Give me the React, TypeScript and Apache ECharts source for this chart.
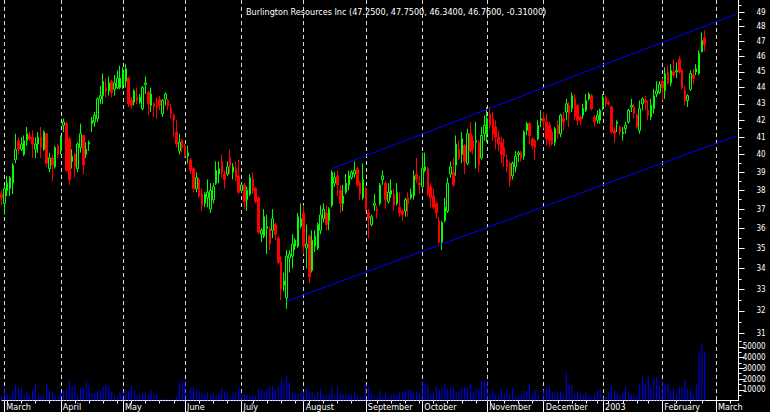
import React, { useEffect, useRef } from 'react';
import * as echarts from 'echarts';

const TITLE = 'Burlington Resources Inc (47.2500, 47.7500, 46.3400, 46.7600, -0.31000)';
const FIRST_DAY = '2002-02-28';
const LAST_DAY = '2003-03-13';
const HOLIDAYS = ['2002-03-29', '2002-05-27', '2002-07-04', '2002-09-02', '2002-11-28', '2002-12-25', '2003-01-01', '2003-01-20', '2003-02-17'];
const MONTH_LABELS: Record<string, string> = {
  '2002-03': 'March', '2002-04': 'April', '2002-05': 'May', '2002-06': 'June', '2002-07': 'July',
  '2002-08': 'August', '2002-09': 'September', '2002-10': 'October', '2002-11': 'November',
  '2002-12': 'December', '2003-01': '2003', '2003-02': 'February', '2003-03': 'March',
};

// [open, high, low, close]
const mar02 = [
  [37.8, 38.0, 37.2, 37.6], [37.3, 38.3, 36.7, 38.1], [38.0, 38.8, 37.7, 38.4], [38.1, 38.8, 37.7, 38.7],
  [38.4, 39.5, 37.8, 39.4], [39.7, 41.2, 39.5, 40.3], [40.8, 41.0, 40.0, 40.3], [40.3, 41.0, 40.2, 40.6],
  [40.0, 41.1, 39.9, 40.8], [40.8, 41.6, 40.5, 41.2], [41.1, 41.3, 40.8, 40.9], [41.0, 41.4, 39.8, 40.6],
  [40.3, 41.0, 39.8, 40.6], [40.6, 41.3, 40.1, 41.0], [41.0, 41.6, 39.8, 40.4], [40.3, 41.4, 40.2, 41.3],
  [41.2, 41.2, 39.3, 39.5], [39.2, 40.1, 39.0, 39.8], [39.8, 40.0, 38.5, 39.4], [39.3, 40.5, 39.2, 40.4],
  [40.5, 40.6, 39.8, 40.0],
];
const apr02 = [
  [40.2, 41.1, 40.0, 41.0], [41.7, 42.1, 41.3, 41.9], [41.8, 41.9, 39.0, 39.1], [40.9, 41.0, 38.3, 38.6],
  [39.6, 40.3, 39.2, 39.9], [40.0, 40.1, 38.7, 39.3], [39.2, 40.7, 39.0, 40.6], [40.4, 41.8, 40.1, 41.2],
  [41.1, 41.1, 38.9, 39.4], [40.0, 40.7, 39.8, 40.3], [40.6, 40.8, 40.2, 40.7], [41.8, 42.2, 41.3, 42.0],
  [41.9, 42.5, 41.6, 42.3], [42.1, 43.4, 41.9, 43.3], [43.3, 44.1, 43.0, 43.5], [43.5, 44.9, 43.0, 44.4],
  [44.0, 44.6, 43.4, 43.8], [43.8, 44.7, 43.5, 44.3], [44.4, 44.5, 43.4, 43.7], [43.9, 44.8, 43.5, 44.3],
  [44.0, 45.1, 43.9, 44.6], [44.0, 45.4, 43.9, 44.6],
];
const may02 = [
  [44.2, 45.3, 43.9, 45.0], [44.4, 45.5, 44.0, 45.2], [44.6, 44.7, 42.8, 43.0], [43.2, 43.4, 42.7, 42.9],
  [43.1, 43.9, 42.9, 43.8], [43.4, 44.0, 43.0, 43.2], [43.1, 43.6, 43.0, 43.4], [42.7, 44.1, 42.6, 44.0],
  [44.2, 44.7, 43.6, 44.3], [43.7, 43.8, 42.3, 43.0], [42.9, 44.0, 42.5, 43.6], [43.0, 43.1, 42.2, 42.8],
  [42.9, 43.4, 42.1, 42.8], [43.3, 43.5, 42.6, 42.9], [42.4, 43.3, 42.2, 43.2], [43.3, 43.7, 42.9, 43.6],
  [43.2, 43.3, 42.6, 42.9], [42.7, 43.0, 42.1, 42.4], [42.3, 42.4, 41.0, 42.0], [41.3, 42.0, 40.4, 40.6],
  [40.2, 41.2, 40.0, 40.7], [40.8, 40.9, 40.1, 40.4],
];
const jun02 = [
  [40.5, 40.6, 39.8, 39.9], [39.9, 40.5, 39.5, 40.1], [39.7, 39.8, 38.9, 39.1], [39.2, 39.3, 37.9, 38.1],
  [38.1, 39.0, 37.9, 38.7], [38.6, 38.7, 37.6, 37.7], [37.8, 38.1, 36.9, 37.2], [37.3, 37.9, 37.1, 37.8],
  [37.6, 38.6, 37.1, 37.9], [37.0, 38.4, 36.8, 38.0], [37.5, 38.4, 37.3, 38.2], [38.4, 39.6, 38.3, 39.1],
  [38.9, 39.6, 38.4, 39.2], [39.6, 40.0, 38.7, 39.0], [38.9, 39.1, 38.1, 38.6], [38.9, 39.6, 38.8, 39.3],
  [39.8, 40.3, 38.9, 39.3], [39.0, 39.5, 38.6, 39.3], [39.2, 39.6, 38.5, 38.7], [38.8, 39.7, 37.8, 37.9],
];
const jul02 = [
  [38.0, 38.4, 37.9, 38.3], [38.3, 38.4, 37.0, 37.4], [37.5, 38.2, 36.9, 38.0], [37.8, 38.9, 37.7, 38.7],
  [38.6, 39.0, 37.8, 38.0], [38.1, 38.2, 37.3, 37.4], [37.6, 37.7, 35.7, 35.8], [35.7, 36.0, 35.3, 35.9],
  [35.6, 37.0, 35.5, 36.6], [36.0, 36.7, 34.7, 36.1], [36.0, 36.1, 34.9, 35.2], [35.9, 37.0, 35.5, 36.5],
  [36.2, 36.3, 35.4, 35.7], [35.5, 35.6, 34.2, 34.3], [34.3, 34.6, 32.5, 33.0], [33.2, 33.8, 32.9, 33.4],
  [32.6, 34.9, 32.1, 34.6], [34.5, 34.9, 33.8, 34.7], [34.6, 35.7, 34.0, 35.2], [35.1, 35.5, 34.9, 35.4],
  [35.1, 36.8, 35.0, 36.6], [36.1, 37.3, 36.0, 36.5],
];
const aug02 = [
  [36.8, 37.2, 34.7, 35.1], [35.0, 36.2, 34.0, 35.2], [35.6, 35.7, 33.3, 33.6], [33.9, 35.9, 33.8, 35.4],
  [35.1, 35.9, 34.8, 35.6], [35.0, 36.3, 34.9, 36.2], [35.9, 37.2, 35.7, 36.7], [36.5, 37.3, 36.3, 37.0],
  [36.8, 37.2, 35.9, 36.2], [36.4, 37.1, 35.9, 37.0], [37.2, 39.1, 37.1, 39.0], [38.4, 39.0, 38.2, 38.7],
  [38.8, 39.1, 37.7, 38.3], [38.0, 38.3, 36.8, 37.3], [37.3, 38.3, 36.9, 37.7], [37.9, 38.9, 37.8, 38.4],
  [38.3, 39.1, 38.0, 38.8], [38.7, 39.1, 38.6, 39.0], [38.9, 39.6, 38.7, 39.1], [39.2, 39.3, 38.2, 38.3],
  [38.4, 38.5, 37.5, 37.8], [37.6, 39.5, 37.5, 38.6],
];
const sep02 = [
  [38.1, 38.2, 36.9, 37.0], [36.8, 37.0, 35.5, 36.5], [36.2, 36.7, 36.1, 36.6], [37.2, 37.8, 36.9, 37.3],
  [37.0, 37.2, 36.5, 36.9], [37.3, 38.4, 37.2, 38.3], [38.6, 39.1, 38.3, 38.8], [38.4, 38.5, 37.0, 37.5],
  [37.4, 38.4, 37.3, 37.9], [37.8, 38.6, 37.6, 38.0], [37.8, 38.1, 36.9, 37.2], [37.3, 38.4, 37.2, 37.9],
  [37.1, 37.9, 36.6, 36.8], [36.9, 37.0, 36.4, 36.7], [36.9, 37.6, 36.6, 37.5], [37.6, 37.9, 36.6, 37.3],
  [37.6, 38.1, 37.5, 37.8], [37.7, 39.1, 37.5, 38.8], [38.9, 39.8, 38.4, 38.6], [38.4, 38.8, 37.8, 38.3],
];
const oct02 = [
  [38.2, 40.1, 38.1, 39.2], [39.1, 40.1, 39.0, 39.3], [39.2, 39.3, 37.7, 37.8], [38.2, 38.4, 37.1, 37.6],
  [37.7, 38.1, 37.0, 37.1], [37.3, 37.4, 36.5, 36.8], [36.4, 36.6, 35.2, 35.3], [35.3, 36.4, 34.9, 36.3],
  [36.4, 37.6, 36.3, 37.1], [36.9, 38.7, 36.8, 38.4], [38.9, 39.6, 38.7, 39.3], [39.0, 39.8, 38.2, 38.3],
  [39.4, 41.1, 38.8, 40.6], [40.3, 40.8, 39.7, 39.8], [40.0, 41.3, 39.5, 40.9], [40.5, 40.6, 38.9, 39.6],
  [39.5, 41.5, 39.4, 41.2], [41.2, 41.9, 40.1, 40.2], [40.8, 41.1, 40.0, 40.3], [40.7, 41.9, 39.2, 40.8],
  [40.7, 40.8, 39.0, 39.4], [39.8, 41.6, 39.7, 41.1], [41.2, 42.3, 40.8, 41.7],
];
const nov02 = [
  [41.2, 42.8, 40.7, 42.1], [42.4, 42.8, 41.5, 41.7], [42.1, 42.5, 40.8, 41.2], [41.6, 42.0, 40.3, 41.0],
  [41.0, 41.4, 40.2, 40.6], [40.7, 41.0, 39.5, 40.0], [40.4, 40.9, 39.3, 39.9], [39.7, 40.0, 39.0, 39.3],
  [39.5, 39.6, 38.2, 38.5], [38.8, 39.6, 38.6, 39.5], [39.3, 40.2, 39.0, 39.9], [40.0, 40.2, 39.6, 40.1],
  [40.1, 40.2, 39.6, 39.8], [39.9, 41.4, 39.7, 41.3], [41.4, 41.9, 41.1, 41.8], [41.8, 41.9, 40.6, 41.1],
  [40.9, 41.0, 40.3, 40.5], [40.8, 40.9, 39.7, 40.4], [40.9, 42.0, 40.8, 41.7], [42.0, 42.6, 41.6, 42.1],
];
const dec02 = [
  [42.1, 42.5, 41.5, 41.9], [41.9, 42.4, 40.5, 40.9], [41.7, 41.9, 40.4, 40.8], [41.3, 41.5, 40.5, 40.6],
  [40.7, 41.6, 40.5, 41.5], [41.7, 42.0, 40.9, 41.2], [41.2, 42.4, 41.0, 42.3], [42.1, 42.5, 41.4, 41.9],
  [42.5, 43.3, 42.0, 43.0], [42.9, 43.1, 41.6, 42.4], [42.7, 43.7, 42.5, 43.5], [43.3, 43.6, 42.0, 42.2],
  [42.9, 43.0, 41.7, 42.0], [42.2, 42.3, 41.7, 42.0], [42.3, 43.0, 42.1, 42.7], [42.6, 43.6, 42.5, 43.2],
  [43.3, 43.7, 43.2, 43.6], [43.5, 43.6, 42.6, 42.7], [42.2, 42.3, 41.6, 41.9], [42.0, 42.6, 41.8, 42.3],
  [42.0, 42.7, 41.8, 42.6],
];
const jan03 = [
  [42.8, 43.6, 42.6, 43.4], [43.4, 43.5, 42.8, 43.0], [43.1, 43.2, 42.9, 43.0], [42.8, 42.9, 41.2, 41.3],
  [41.4, 41.6, 40.7, 41.2], [41.8, 42.0, 41.3, 41.9], [41.6, 41.7, 41.1, 41.3], [41.2, 41.6, 40.8, 41.3],
  [41.5, 41.9, 41.2, 41.7], [41.9, 42.7, 41.8, 42.6], [42.8, 43.3, 42.5, 42.9], [42.8, 43.0, 42.1, 42.4],
  [42.3, 42.4, 41.5, 41.6], [41.4, 43.2, 41.2, 42.7], [43.0, 43.4, 42.6, 43.3], [43.2, 43.5, 42.6, 43.1],
  [42.6, 43.2, 42.0, 42.3], [42.2, 43.3, 42.0, 42.9], [42.7, 43.9, 42.4, 43.5], [43.6, 44.4, 43.4, 43.8],
  [43.7, 44.4, 43.6, 44.2],
];
const feb03 = [
  [44.4, 44.6, 43.2, 44.0], [43.8, 45.3, 43.3, 44.9], [45.0, 45.4, 44.2, 44.3], [44.3, 45.5, 44.1, 45.1],
  [45.0, 45.8, 44.6, 44.8], [45.0, 45.6, 44.6, 45.1], [45.8, 46.0, 44.9, 45.0], [45.1, 45.2, 43.9, 44.0],
  [43.8, 44.1, 42.9, 43.2], [43.2, 43.6, 42.8, 43.5], [43.9, 45.1, 43.8, 44.9], [44.8, 45.2, 44.2, 44.6],
  [45.0, 45.5, 44.8, 45.2], [44.9, 46.4, 44.8, 46.2], [46.3, 47.6, 46.3, 47.07], [47.25, 47.75, 46.34, 46.76],
];

const volMar02 = [3700, 11500, 5600, 4400, 9300, 15000, 11500, 12400, 4700, 8400, 4700, 9300, 16200, 6800, 4700, 3700, 15000, 9300, 8400, 4700, 4700];
const volApr02 = [7800, 9300, 10600, 17700, 13400, 13100, 5600, 11800, 13100, 17700, 13100, 7200, 6800, 8700, 10000, 12400, 15000, 13100, 7800, 4700, 3100, 7800];
const volMay02 = [8400, 9300, 8400, 14000, 10000, 4700, 6200, 6200, 6800, 5600, 9300, 5600, 5600, 900, 1600, 1600, 1600, 500, 900, 3100, 16500, 19300];
const volJun02 = [17100, 4700, 11800, 12400, 9300, 8700, 6800, 5600, 7800, 4400, 6200, 4700, 5600, 11800, 7800, 7800, 3700, 7800, 8400, 12400];
const volJul02 = [6200, 5600, 5600, 3700, 4400, 4700, 10900, 9300, 8700, 10000, 13400, 13400, 10000, 13100, 19600, 16200, 22700, 17100, 7800, 6800, 6200, 7800];
const volAug02 = [8400, 11800, 8700, 7800, 4700, 7800, 10900, 4700, 5600, 5600, 13100, 4700, 13400, 6200, 5600, 5600, 5600, 5600, 7800, 4700, 3700, 3100];
const volSep02 = [15600, 13100, 6200, 4700, 3100, 9300, 3700, 6800, 3100, 5600, 6200, 5600, 8400, 7800, 8400, 10900, 10000, 6800, 7800, 6800];
const volOct02 = [18000, 16200, 14000, 6200, 6800, 13100, 10000, 12400, 16200, 10000, 11800, 13100, 7800, 7800, 11800, 11800, 12400, 15000, 7800, 11800, 10000, 18700, 18700];
const volNov02 = [18700, 6200, 9300, 5600, 4700, 11800, 6200, 10000, 6200, 11800, 3700, 4700, 6200, 9300, 8700, 15600, 5600, 9300, 5600, 600];
const volDec02 = [10000, 11800, 14000, 8700, 6800, 7800, 8700, 5600, 26400, 14000, 14000, 6200, 8400, 6800, 4700, 7800, 4700, 3100, 5600, 9300, 10000];
const volJan03 = [3100, 3100, 7800, 14000, 10000, 6800, 4700, 7800, 13100, 8700, 5600, 4700, 4700, 16200, 22400, 16200, 23300, 12400, 20800, 21800, 13100];
const volFeb03 = [18700, 15000, 16200, 8700, 11800, 6200, 13100, 13100, 19300, 11500, 10000, 4700, 16200, 44200, 52900, 45100];

const PRICE_TICKS = [31, 32, 33, 34, 35, 36, 37, 38, 39, 40, 41, 42, 43, 44, 45, 46, 47, 48, 49];
const PRICE_MINOR_TICKS = [30.5, 31.5, 32.5, 33.5, 34.5, 35.5, 36.5, 37.5, 38.5, 39.5, 40.5, 41.5, 42.5, 43.5, 44.5, 45.5, 46.5, 47.5, 48.5, 49.5];
const PRICE_RANGE = [30.7, 49.86];
const VOLUME_TICKS = [10000, 20000, 30000, 40000, 50000];
const VOLUME_MINOR_TICKS = [5000, 15000, 25000, 35000, 45000, 55000];
const VOLUME_MAX = 56500;

const UPPER_CHANNEL: [string, number][] = [['2002-08-15', 39.2], ['2003-03-12', 48.85]];
const LOWER_CHANNEL: [string, number][] = [['2002-07-24', 32.45], ['2003-03-12', 41.06]];

const GREEN = '#00ff00';
const RED = '#ff0000';
const BLUE = '#0000ff';
const FONT = "'Liberation Sans Narrow', 'DejaVu Sans Condensed', 'Liberation Sans', sans-serif";

function tradingDays(): string[] {
  const out: string[] = [];
  const d = new Date(FIRST_DAY + 'T00:00:00Z');
  const end = new Date(LAST_DAY + 'T00:00:00Z');
  while (d.getTime() <= end.getTime()) {
    const wd = d.getUTCDay();
    const s = d.toISOString().slice(0, 10);
    if (wd !== 0 && wd !== 6 && HOLIDAYS.indexOf(s) < 0) out.push(s);
    d.setUTCDate(d.getUTCDate() + 1);
  }
  return out;
}

export default function App() {
  const ref = useRef<HTMLDivElement>(null);
  useEffect(() => {
    document.body.style.margin = '0';
    document.body.style.background = '#000';
    if (!ref.current) return;
    const chart = echarts.init(ref.current, undefined, { renderer: 'svg' });

    const cats = tradingDays();
    const monthStart = new Set<number>();
    const weekStart = new Set<number>();
    for (let i = 1; i < cats.length; i++) {
      if (cats[i].slice(0, 7) !== cats[i - 1].slice(0, 7)) monthStart.add(i);
      const a = new Date(cats[i] + 'T00:00:00Z').getUTCDay();
      const b = new Date(cats[i - 1] + 'T00:00:00Z').getUTCDay();
      if (a < b) weekStart.add(i);
    }
    const ohlc = [...mar02, ...apr02, ...may02, ...jun02, ...jul02, ...aug02, ...sep02, ...oct02, ...nov02, ...dec02, ...jan03, ...feb03];
    const volume = [...volMar02, ...volApr02, ...volMay02, ...volJun02, ...volJul02, ...volAug02, ...volSep02, ...volOct02, ...volNov02, ...volDec02, ...volJan03, ...volFeb03];
    const candles = ohlc.map(([o, h, l, c]) => [Math.log(o), Math.log(c), Math.log(l), Math.log(h)]);
    const chan = (pts: [string, number][]) => pts.map(([d, p]) => [cats.indexOf(d), Math.log(p)]);

    const slot = 2.824;
    const left = 1.5;
    const width = (cats.length - 1) * slot;
    const right = 770 - left - width;

    const dashed = {
      show: true,
      interval: (i: number) => monthStart.has(i),
      lineStyle: { color: '#d8d8d8', type: [4, 3], width: 1 },
    };

    chart.setOption({
      animation: false,
      backgroundColor: '#000000',
      title: {
        text: TITLE,
        left: 241,
        top: 2,
        textStyle: { color: '#ffffff', fontSize: 9, fontWeight: 'normal', fontFamily: FONT },
      },
      grid: [
        { left, right, top: 0, height: 340 },
        { left, right, top: 340, height: 60.5 },
      ],
      xAxis: [
        {
          type: 'category', gridIndex: 0, data: cats, boundaryGap: false,
          axisLine: { show: false }, axisTick: { show: false }, axisLabel: { show: false },
          splitLine: dashed,
        },
        {
          type: 'category', gridIndex: 1, data: cats, boundaryGap: false, position: 'bottom',
          axisLine: { show: true, lineStyle: { color: '#ffffff', width: 1 } },
          axisTick: { show: true, interval: (i: number) => weekStart.has(i), length: 3, lineStyle: { color: '#ffffff' } },
          axisLabel: {
            show: true,
            interval: (i: number) => monthStart.has(i),
            formatter: (v: string) => MONTH_LABELS[v.slice(0, 7)] || '',
            color: '#ffffff', fontSize: 9, fontFamily: FONT, align: 'left', margin: 2, padding: [0, 0, 0, 2],
          },
          splitLine: dashed,
        },
        {
          type: 'category', gridIndex: 1, data: cats, boundaryGap: false, position: 'bottom',
          axisLine: { show: false },
          axisTick: { show: true, interval: (i: number) => monthStart.has(i), length: 12, lineStyle: { color: '#ffffff' } },
          axisLabel: { show: false }, splitLine: { show: false },
        },
      ],
      yAxis: [
        {
          type: 'value', gridIndex: 0, position: 'right',
          min: Math.log(PRICE_RANGE[0]), max: Math.log(PRICE_RANGE[1]),
          axisLine: { show: true, lineStyle: { color: '#ffffff', width: 1 } },
          axisTick: { show: true, customValues: PRICE_TICKS.map(Math.log), length: 6, lineStyle: { color: '#ffffff' } },
          axisLabel: {
            show: true, customValues: PRICE_TICKS.map(Math.log),
            formatter: (v: number) => String(Math.round(Math.exp(v))),
            color: '#ffffff', fontSize: 8, fontFamily: FONT, align: 'right', margin: 27,
          },
          splitLine: { show: false },
        },
        {
          type: 'value', gridIndex: 0, position: 'right',
          min: Math.log(PRICE_RANGE[0]), max: Math.log(PRICE_RANGE[1]),
          axisLine: { show: false },
          axisTick: { show: true, customValues: PRICE_MINOR_TICKS.map(Math.log), length: 3, lineStyle: { color: '#ffffff' } },
          axisLabel: { show: false }, splitLine: { show: false },
        },
        {
          type: 'value', gridIndex: 1, position: 'right', min: 0, max: VOLUME_MAX,
          axisLine: { show: true, lineStyle: { color: '#ffffff', width: 1 } },
          axisTick: { show: true, customValues: VOLUME_TICKS, length: 6, lineStyle: { color: '#ffffff' } },
          axisLabel: {
            show: true, customValues: VOLUME_TICKS,
            formatter: (v: number) => String(Math.round(v)),
            color: '#ffffff', fontSize: 8, fontFamily: FONT, align: 'right', margin: 27,
          },
          splitLine: { show: false },
        },
        {
          type: 'value', gridIndex: 1, position: 'right', min: 0, max: VOLUME_MAX,
          axisLine: { show: false },
          axisTick: { show: true, customValues: VOLUME_MINOR_TICKS, length: 3, lineStyle: { color: '#ffffff' } },
          axisLabel: { show: false }, splitLine: { show: false },
        },
      ],
      series: [
        {
          type: 'candlestick', xAxisIndex: 0, yAxisIndex: 0, data: candles, barWidth: 2, clip: false,
          itemStyle: { color: '#000000', color0: RED, borderColor: GREEN, borderColor0: RED, borderWidth: 1 },
        },
        {
          type: 'line', xAxisIndex: 0, yAxisIndex: 0, data: chan(UPPER_CHANNEL), symbol: 'none',
          lineStyle: { color: BLUE, width: 1 },
        },
        {
          type: 'line', xAxisIndex: 0, yAxisIndex: 0, data: chan(LOWER_CHANNEL), symbol: 'none',
          lineStyle: { color: BLUE, width: 1 },
        },
        {
          type: 'bar', xAxisIndex: 1, yAxisIndex: 2, data: volume, barWidth: 1, clip: false,
          itemStyle: { color: BLUE },
        },
      ],
    });
    return () => chart.dispose();
  }, []);
  return <div ref={ref} style={{ width: 770, height: 412, background: '#000' }} />;
}
